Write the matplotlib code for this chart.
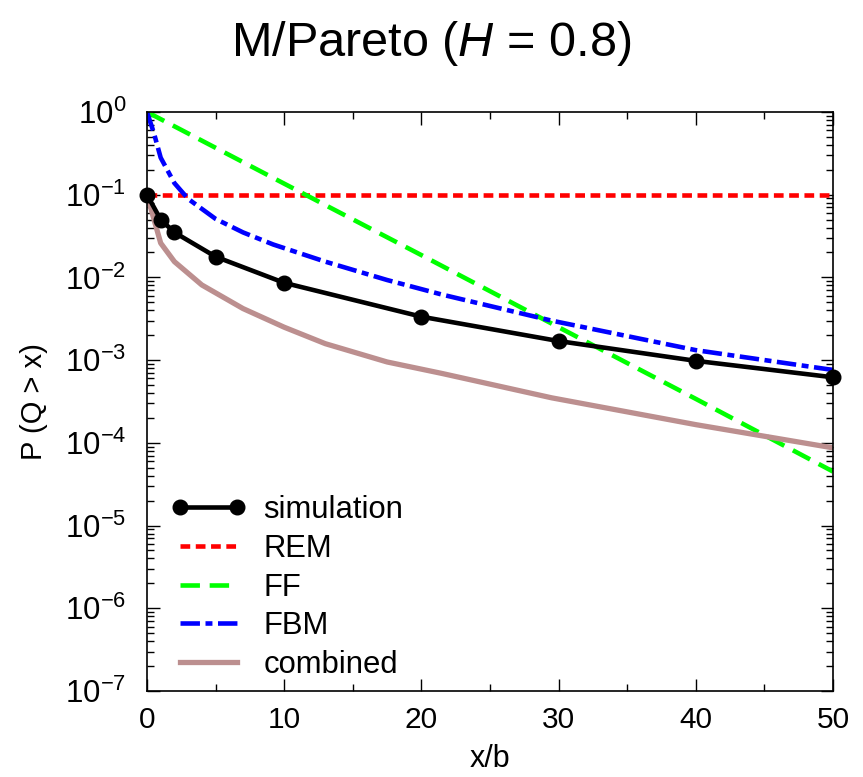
import matplotlib
matplotlib.use("Agg")
import matplotlib.pyplot as plt
from matplotlib.ticker import FixedLocator, LogLocator, NullFormatter

plt.rcParams['font.family'] = ['Liberation Sans', 'DejaVu Sans']
plt.rcParams['mathtext.fontset'] = 'custom'
plt.rcParams['mathtext.rm'] = 'Liberation Sans'
plt.rcParams['mathtext.it'] = 'Liberation Sans:italic'
plt.rcParams['mathtext.bf'] = 'Liberation Sans:bold'
plt.rcParams['lines.scale_dashes'] = False

# ---- data ----
sim_x = [0, 1, 2, 5, 10, 20, 30, 40, 50]
sim_y = [0.1, 0.050, 0.035, 0.0178, 0.0086, 0.00335, 0.0017, 0.00098, 0.00062]

rem_x = [0, 50]
rem_y = [0.1, 0.1]

ff_x = [0, 10, 20, 30, 40, 50]
ff_y = [1.0, 0.136, 0.0186, 0.0025, 0.00034, 4.5e-5]

fbm_x = [0, 0.5, 1, 2, 3, 5, 7, 9.2, 13, 17.5, 21.5, 29.5, 40, 50]
fbm_y = [1.0, 0.56, 0.28, 0.138, 0.089, 0.051, 0.035, 0.025, 0.0155,
         0.0093, 0.0062, 0.0030, 0.00132, 0.00076]

comb_x = [0, 1, 2, 4, 7, 10, 13, 17.5, 21.5, 29.5, 40, 50]
comb_y = [0.1, 0.026, 0.0155, 0.0081, 0.0042, 0.0025, 0.00158, 0.00095,
          0.00069, 0.00035, 0.000166, 8.7e-5]

xticks = [0, 10, 20, 30, 40, 50]
yticks = [1e-7, 1e-6, 1e-5, 1e-4, 1e-3, 1e-2, 1e-1, 1e0]
ytick_labels = [r'$10^{-7}$', r'$10^{-6}$', r'$10^{-5}$', r'$10^{-4}$',
                r'$10^{-3}$', r'$10^{-2}$', r'$10^{-1}$', r'$10^{0}$']

title = r'M/Pareto ($\mathit{H}$ = 0.8)'

# ---- figure ----
fig = plt.figure(figsize=(8.63, 7.77), dpi=100)
ax = fig.add_axes([0.1703, 0.1107, 0.7949, 0.7452])

ax.plot(sim_x, sim_y, color='black', lw=3.3, marker='o', ms=10.5,
        label='simulation', zorder=5, clip_on=False)
ax.plot(rem_x, rem_y, color='#ff0000', lw=3.3, dashes=(7, 4), label='REM')
ax.plot(ff_x, ff_y, color='#00ff00', lw=3.3, dashes=(14, 7), label='FF')
ax.plot(fbm_x, fbm_y, color='#0000ff', lw=3.3, dashes=(14, 4, 5, 4), label='FBM')
ax.plot(comb_x, comb_y, color='#bc8f8f', lw=3.8, label='combined')

ax.set_yscale('log')
ax.set_xlim(0, 50)
ax.set_ylim(1e-7, 1e0)

ax.xaxis.set_major_locator(FixedLocator(xticks))
ax.xaxis.set_minor_locator(FixedLocator([5, 15, 25, 35, 45]))
ax.yaxis.set_major_locator(FixedLocator(yticks))
ax.set_yticklabels(ytick_labels)
ax.yaxis.set_minor_locator(LogLocator(base=10, subs=range(2, 10), numticks=20))
ax.yaxis.set_minor_formatter(NullFormatter())

ax.tick_params(which='both', direction='in', top=True, right=True, width=1)
ax.tick_params(which='major', length=9)
ax.tick_params(which='minor', length=5)
ax.tick_params(axis='x', which='major', labelsize=21.5, pad=11)
ax.tick_params(axis='y', which='major', labelsize=22.5, pad=15)
for s in ax.spines.values():
    s.set_linewidth(1.2)

ax.set_xlabel('x/b', fontsize=22, labelpad=7)
ax.set_ylabel('P (Q > x)', fontsize=21, labelpad=12)
fig.suptitle(title, fontsize=35, y=0.975)

leg = ax.legend(loc='lower left', bbox_to_anchor=(-0.006, -0.029), frameon=False,
                fontsize=22.3, numpoints=2, handlelength=2.45, handletextpad=0.55,
                labelspacing=0.28, borderaxespad=0.5)

fig.savefig('out.png', dpi=100)
